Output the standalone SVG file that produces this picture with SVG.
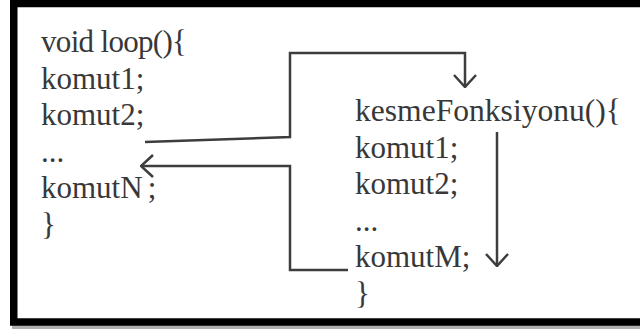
<svg xmlns="http://www.w3.org/2000/svg" width="640" height="329" viewBox="0 0 640 329">
<style>
.t{font-family:"Liberation Serif","Times New Roman",serif;font-size:31px;fill:#383838}
.c{fill:none;stroke:#3d3d3d;stroke-width:2.5}
</style>
<defs>
<marker id="ah" viewBox="0 0 14 24" refX="13" refY="12" markerWidth="14" markerHeight="24" markerUnits="userSpaceOnUse" orient="auto">
<path d="M1,1 L13,12 L1,23" fill="none" stroke="#3d3d3d" stroke-width="2.5"/>
</marker>
</defs>
<rect x="0" y="0" width="640" height="329" fill="#fff"/>
<rect x="12" y="325" width="628" height="4" fill="#b0b0b0"/>
<rect x="13.75" y="3.5" width="700" height="318.5" fill="none" stroke="#000" stroke-width="7.5"/>
<g id="loop">
<text class="t" x="41" y="52" textLength="146" lengthAdjust="spacing">void loop(){</text>
<text class="t" x="41" y="88.5">komut1;</text>
<text class="t" x="41" y="125">komut2;</text>
<text class="t" x="41" y="161.5">...</text>
<text class="t" x="41" y="198">komutN<tspan dx="5">;</tspan></text>
<text class="t" x="41" y="234.5">}</text>
</g>
<g id="kesme">
<text class="t" x="355" y="121" textLength="266" lengthAdjust="spacingAndGlyphs">kesmeFonksiyonu(){</text>
<text class="t" x="355" y="157.5">komut1;</text>
<text class="t" x="355" y="194">komut2;</text>
<text class="t" x="355" y="230.5">...</text>
<text class="t" x="355" y="267">komutM;</text>
<text class="t" x="355" y="303.5">}</text>
</g>
<g id="connectors">
<path class="c" d="M145,142 L290,137 L290,53 L465,53 L465,87" marker-end="url(#ah)"/>
<path class="c" d="M348,270 L290,270 L290,166 L141,166" marker-end="url(#ah)"/>
<path class="c" d="M497,132 L497,266" marker-end="url(#ah)"/>
</g>
</svg>
